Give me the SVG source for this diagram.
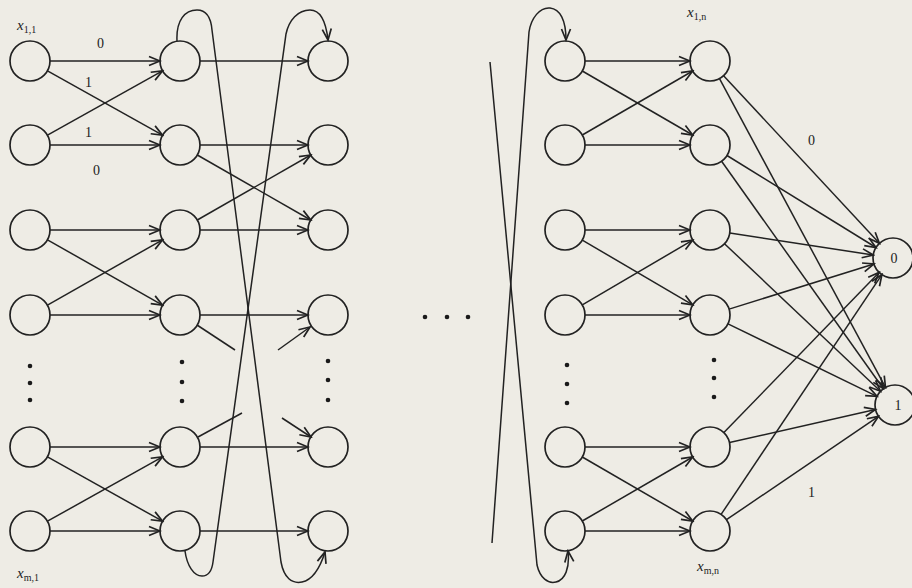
<svg xmlns="http://www.w3.org/2000/svg" width="912" height="588" viewBox="0 0 912 588">
<style>
.n{fill:none;stroke:#222;stroke-width:1.7}
.e{fill:none;stroke:#222;stroke-width:1.5;marker-end:url(#ah)}
.s{fill:none;stroke:#222;stroke-width:1.5}
.lab{font-family:"Liberation Serif",serif;font-style:italic;font-size:15px;fill:#222}
.sub{font-size:10px;font-style:normal}
.el{font-family:"Liberation Serif",serif;font-size:14px;fill:#222}
.dot{fill:#1a1a1a}
</style>
<defs>
<marker id="ah" markerUnits="userSpaceOnUse" markerWidth="14" markerHeight="12" viewBox="-12 -6 14 12" refX="0" refY="0" orient="auto">
<path d="M-11,-4.5 L0,0 L-11,4.5" fill="none" stroke="#222" stroke-width="1.7"/>
</marker>
</defs>
<rect width="912" height="588" fill="#eeece5"/>

<g id="connectors">
<path class="e" d="M50,61 L160,61"/>
<path class="e" d="M50,145 L160,145"/>
<path class="e" d="M47.5,70.8 L162.5,135.2"/>
<path class="e" d="M47.5,135.2 L162.5,70.8"/>
<path class="e" d="M50,230 L160,230"/>
<path class="e" d="M50,315 L160,315"/>
<path class="e" d="M47.5,239.8 L162.5,305.2"/>
<path class="e" d="M47.5,305.2 L162.5,239.8"/>
<path class="e" d="M50,447 L160,447"/>
<path class="e" d="M50,531 L160,531"/>
<path class="e" d="M47.5,456.8 L162.5,521.2"/>
<path class="e" d="M47.5,521.2 L162.5,456.8"/>
<path class="e" d="M200,61 L308,61"/>
<path class="e" d="M200,145 L308,145"/>
<path class="e" d="M200,230 L308,230"/>
<path class="e" d="M200,315 L308,315"/>
<path class="e" d="M200,447 L308,447"/>
<path class="e" d="M200,531 L308,531"/>
<path class="e" d="M197.3,155 L310.7,220"/>
<path class="e" d="M197.3,220 L310.7,155"/>
<path class="s" d="M197,325 L235,350"/>
<path class="e" d="M278,350 L310,327"/>
<path class="s" d="M198,437 L242,413"/>
<path class="e" d="M282,418 L311,437"/>
<path class="e" d="M177,41 C176,20 185,10 197,10 C207,10 211,18 212,30 L281,562 C284,578 292,584 302,582 C312,580 320,568 325,552"/>
<path class="e" d="M185,551 C187,566 194,576 202,576 C209,576 212,570 213,562 L286,34 C289,20 298,10 310,10 C320,10 326,22 328,40"/>
<path class="e" d="M490,62 L537,565 C540,578 548,584 556,582 C565,580 570,568 568,551"/>
<path class="e" d="M492,543 L529,32 C531,18 540,7 550,8 C560,9 566,20 566,40"/>
<path class="e" d="M585,61 L690,61"/>
<path class="e" d="M585,145 L690,145"/>
<path class="e" d="M582.3,71 L692.7,135"/>
<path class="e" d="M582.3,135 L692.7,71"/>
<path class="e" d="M585,230 L690,230"/>
<path class="e" d="M585,315 L690,315"/>
<path class="e" d="M582.3,240.1 L692.7,304.9"/>
<path class="e" d="M582.3,304.9 L692.7,240.1"/>
<path class="e" d="M585,447 L690,447"/>
<path class="e" d="M585,531 L690,531"/>
<path class="e" d="M582.3,457 L692.7,521"/>
<path class="e" d="M582.3,521 L692.7,457"/>
<path class="e" d="M723.6,75.7 L879.4,243.3"/>
<path class="e" d="M719.5,78.6 L885.5,387.4"/>
<path class="e" d="M727,155.5 L876,247.5"/>
<path class="e" d="M721.6,161.3 L883.4,388.7"/>
<path class="e" d="M729.8,233 L873.2,255"/>
<path class="e" d="M724.5,243.7 L880.5,391.3"/>
<path class="e" d="M729.1,309.1 L873.9,264"/>
<path class="e" d="M728,323.8 L877,396.3"/>
<path class="e" d="M723.9,432.6 L879.1,272.4"/>
<path class="e" d="M729.5,442.6 L875.5,409.4"/>
<path class="e" d="M721.1,514.4 L881.9,274.6"/>
<path class="e" d="M726.5,519.7 L878.5,416.3"/>
</g>

<g id="edge-labels">
<text class="el" x="97" y="48">0</text>
<text class="el" x="85" y="87">1</text>
<text class="el" x="85" y="137">1</text>
<text class="el" x="93" y="175">0</text>
<text class="el" x="808" y="145">0</text>
<text class="el" x="808" y="497">1</text>
</g>

<g id="col1">
<g id="n1_1"><circle class="n" cx="30" cy="61" r="20"/></g>
<g id="n1_2"><circle class="n" cx="30" cy="145" r="20"/></g>
<g id="n1_3"><circle class="n" cx="30" cy="230" r="20"/></g>
<g id="n1_4"><circle class="n" cx="30" cy="315" r="20"/></g>
<g id="n1_5"><circle class="n" cx="30" cy="447" r="20"/></g>
<g id="n1_6"><circle class="n" cx="30" cy="531" r="20"/></g>
</g>
<g id="col2">
<g id="n2_1"><circle class="n" cx="180" cy="61" r="20"/></g>
<g id="n2_2"><circle class="n" cx="180" cy="145" r="20"/></g>
<g id="n2_3"><circle class="n" cx="180" cy="230" r="20"/></g>
<g id="n2_4"><circle class="n" cx="180" cy="315" r="20"/></g>
<g id="n2_5"><circle class="n" cx="180" cy="447" r="20"/></g>
<g id="n2_6"><circle class="n" cx="180" cy="531" r="20"/></g>
</g>
<g id="col3">
<g id="n3_1"><circle class="n" cx="328" cy="61" r="20"/></g>
<g id="n3_2"><circle class="n" cx="328" cy="145" r="20"/></g>
<g id="n3_3"><circle class="n" cx="328" cy="230" r="20"/></g>
<g id="n3_4"><circle class="n" cx="328" cy="315" r="20"/></g>
<g id="n3_5"><circle class="n" cx="328" cy="447" r="20"/></g>
<g id="n3_6"><circle class="n" cx="328" cy="531" r="20"/></g>
</g>
<g id="col4">
<g id="n4_1"><circle class="n" cx="565" cy="61" r="20"/></g>
<g id="n4_2"><circle class="n" cx="565" cy="145" r="20"/></g>
<g id="n4_3"><circle class="n" cx="565" cy="230" r="20"/></g>
<g id="n4_4"><circle class="n" cx="565" cy="315" r="20"/></g>
<g id="n4_5"><circle class="n" cx="565" cy="447" r="20"/></g>
<g id="n4_6"><circle class="n" cx="565" cy="531" r="20"/></g>
</g>
<g id="col5">
<g id="n5_1"><circle class="n" cx="710" cy="61" r="20"/></g>
<g id="n5_2"><circle class="n" cx="710" cy="145" r="20"/></g>
<g id="n5_3"><circle class="n" cx="710" cy="230" r="20"/></g>
<g id="n5_4"><circle class="n" cx="710" cy="315" r="20"/></g>
<g id="n5_5"><circle class="n" cx="710" cy="447" r="20"/></g>
<g id="n5_6"><circle class="n" cx="710" cy="531" r="20"/></g>
</g>
<g id="out0"><circle class="n" cx="893" cy="258" r="20"/><text class="el" x="894" y="263" text-anchor="middle">0</text></g>
<g id="out1"><circle class="n" cx="895" cy="405" r="20"/><text class="el" x="898" y="410" text-anchor="middle">1</text></g>

<g id="labels">
<text class="lab" x="17" y="30">x<tspan class="sub" dy="3">1,1</tspan></text>
<text class="lab" x="17" y="578">x<tspan class="sub" dy="3">m,1</tspan></text>
<text class="lab" x="687" y="17">x<tspan class="sub" dy="3">1,n</tspan></text>
<text class="lab" x="697" y="571">x<tspan class="sub" dy="3">m,n</tspan></text>
</g>

<g id="dots">
<circle class="dot" cx="30" cy="366" r="2.3"/><circle class="dot" cx="30" cy="383" r="2.3"/><circle class="dot" cx="30" cy="400" r="2.3"/>
<circle class="dot" cx="182" cy="362" r="2.3"/><circle class="dot" cx="182" cy="382" r="2.3"/><circle class="dot" cx="182" cy="401" r="2.3"/>
<circle class="dot" cx="328" cy="361" r="2.3"/><circle class="dot" cx="328" cy="380" r="2.3"/><circle class="dot" cx="328" cy="400" r="2.3"/>
<circle class="dot" cx="567" cy="365" r="2.3"/><circle class="dot" cx="567" cy="384" r="2.3"/><circle class="dot" cx="567" cy="403" r="2.3"/>
<circle class="dot" cx="714" cy="360" r="2.3"/><circle class="dot" cx="714" cy="378" r="2.3"/><circle class="dot" cx="714" cy="397" r="2.3"/>
<circle class="dot" cx="425" cy="317" r="2.3"/><circle class="dot" cx="447" cy="317" r="2.3"/><circle class="dot" cx="468" cy="317" r="2.3"/>
</g>
</svg>
